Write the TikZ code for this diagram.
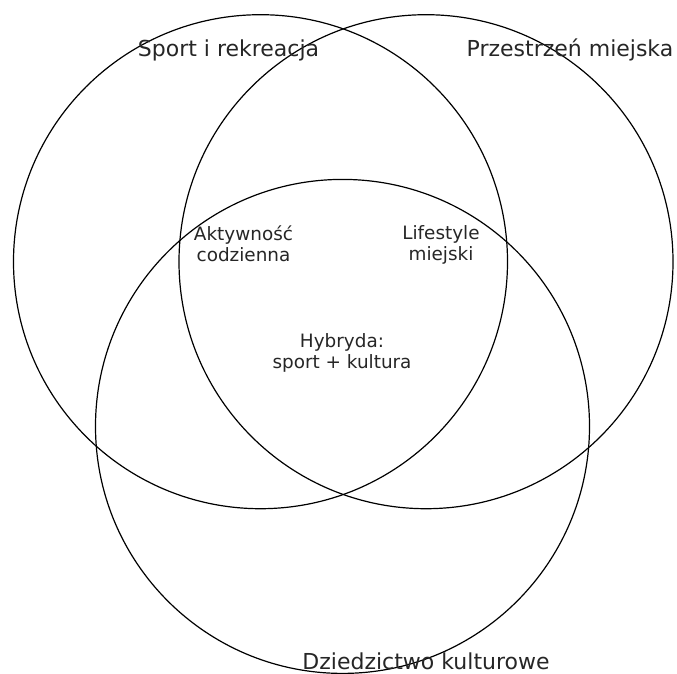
\documentclass[tikz,border=0pt]{standalone}
\usepackage{fontspec}
\setmainfont{DejaVu Sans}
\begin{document}
\begin{tikzpicture}[x=1pt,y=-1pt,
  ring/.style={draw=black,line width=1.2pt},
  title/.style={anchor=base,inner sep=0pt,text=black!85,font=\fontsize{22}{26}\selectfont},
  region/.style={align=center,inner sep=0pt,text=black!85,font=\fontsize{18.4}{21}\selectfont}]
\useasboundingbox (0,0) rectangle (677,673);
\draw[ring] (260.5,261.7) circle[radius=247];
\draw[ring] (426,261.7) circle[radius=247];
\draw[ring] (342.5,426.4) circle[radius=247];
\node[title] (ta) at (228.5,56) {Sport i rekreacja};
\node[title] (tb) at (570,56) {Przestrzeń miejska};
\node[title] (tc) at (426,669) {Dziedzictwo kulturowe};
\node[region] (ab) at (243.5,244) {Aktywność\\codzienna};
\node[region] (bc) at (441,245) {Lifestyle\\miejski};
\node[region] (abc) at (342,353) {Hybryda:\\sport + kultura};
\end{tikzpicture}
\end{document}
